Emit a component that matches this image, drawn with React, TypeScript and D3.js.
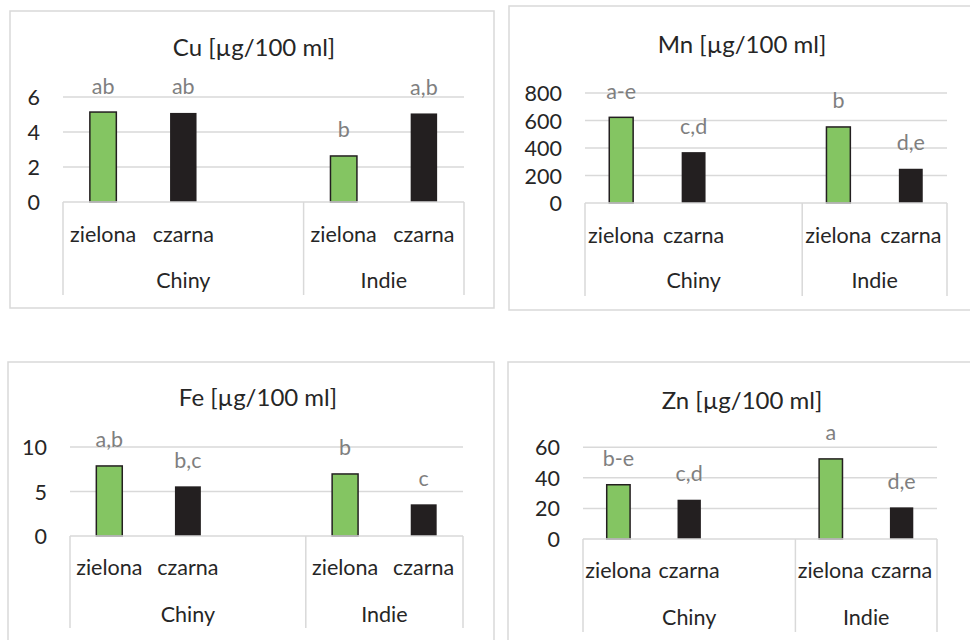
import React from "react";
import * as d3 from "d3";

// categories
const countries = ["Chiny", "Indie"];
const teas = ["zielona", "czarna"];

// values per bar: Chiny zielona, Chiny czarna, Indie zielona, Indie czarna
const cuValues = [5.14, 5.09, 2.63, 5.06];
const mnValues = [623, 370, 553, 249];
const feValues = [7.87, 5.58, 6.97, 3.56];
const znValues = [35.5, 25.7, 52.4, 20.7];

// significance letters
const cuLetters = ["ab", "ab", "b", "a,b"];
const mnLetters = ["a-e", "c,d", "b", "d,e"];
const feLetters = ["a,b", "b,c", "b", "c"];
const znLetters = ["b-e", "c,d", "a", "d,e"];

// tick values
const cuTicks = [0, 2, 4, 6];
const mnTicks = [0, 200, 400, 600, 800];
const feTicks = [0, 5, 10];
const znTicks = [0, 20, 40, 60];

const titles = ["Cu [µg/100 ml]", "Mn [µg/100 ml]", "Fe [µg/100 ml]", "Zn [µg/100 ml]"];

const panels = [
  { title: titles[0], values: cuValues, letters: cuLetters, ticks: cuTicks },
  { title: titles[1], values: mnValues, letters: mnLetters, ticks: mnTicks },
  { title: titles[2], values: feValues, letters: feLetters, ticks: feTicks },
  { title: titles[3], values: znValues, letters: znLetters, ticks: znTicks },
];

// layout of each panel on the page
const layouts = [
  { bx: 10, by: 11, bw: 484, bh: 297, left: 63, right: 464, y0: 202, yTop: 97, titleX: 254, titleY: 46, catY: 234, grpY: 280, axisBottom: 295 },
  { bx: 509, by: 6, bw: 470, bh: 304, left: 585, right: 947, y0: 203, yTop: 93, titleX: 742, titleY: 43, catY: 235, grpY: 280, axisBottom: 296 },
  { bx: 8, by: 362, bw: 486, bh: 300, left: 70, right: 463, y0: 536, yTop: 447, titleX: 258, titleY: 396, catY: 567, grpY: 614, axisBottom: 628 },
  { bx: 508, by: 362, bw: 470, bh: 300, left: 583, right: 937, y0: 539, yTop: 447.3, titleX: 742, titleY: 399, catY: 570, grpY: 617, axisBottom: 632 },
];

const FONT = "Lato, 'Open Sans', sans-serif";
const GREEN = "#84c562";
const BLACK = "#231f20";
const GRID = "#d9d9d9";

// Excel leaves an empty third category in the first group
const slots = ["Chiny|zielona", "Chiny|czarna", "Chiny|", "Indie|zielona", "Indie|czarna"];

function Panel({ p, l }: { p: (typeof panels)[0]; l: (typeof layouts)[0] }) {
  const x = d3.scaleBand().domain(slots).range([l.left, l.right]).paddingInner(0).paddingOuter(0);
  const y = d3
    .scaleLinear()
    .domain([0, p.ticks[p.ticks.length - 1]])
    .range([l.y0, l.yTop]);
  const barW = x.bandwidth() * 0.33;
  const barKeys = countries.flatMap((c) => teas.map((t) => `${c}|${t}`));
  const groupEdges = [l.left, x("Indie|zielona")!, l.right];

  return (
    <g>
      <rect x={l.bx} y={l.by} width={l.bw} height={l.bh} fill="#fff" stroke={GRID} strokeWidth={1.5} />
      <text x={l.titleX} y={l.titleY} textAnchor="middle" dominantBaseline="central" fontSize={24} fill="#262626" fontFamily={FONT}>
        {p.title}
      </text>
      {p.ticks.map((t) => (
        <g key={t}>
          {t > 0 && <line x1={l.left} x2={l.right} y1={y(t)} y2={y(t)} stroke={GRID} strokeWidth={1.5} />}
          <text x={l.left - 23} y={y(t)} textAnchor="end" dominantBaseline="central" fontSize={21.5} fill="#262626" fontFamily={FONT}>
            {t}
          </text>
        </g>
      ))}
      {barKeys.map((k, i) => {
        const cx = x(k)! + x.bandwidth() / 2;
        const top = y(p.values[i]);
        const isGreen = k.endsWith("zielona");
        return (
          <g key={k}>
            <rect
              x={cx - barW / 2}
              y={top}
              width={barW}
              height={l.y0 - top}
              fill={isGreen ? GREEN : BLACK}
              stroke={BLACK}
              strokeWidth={isGreen ? 1.5 : 0}
            />
            <text x={cx} y={top - 18.5} textAnchor="middle" fontSize={21.5} fill="#7f7f7f" fontFamily={FONT}>
              {p.letters[i]}
            </text>
            <text x={cx} y={l.catY} textAnchor="middle" dominantBaseline="central" fontSize={21.5} fill="#262626" fontFamily={FONT}>
              {k.split("|")[1]}
            </text>
          </g>
        );
      })}
      <line x1={l.left} x2={l.right} y1={l.y0} y2={l.y0} stroke={GRID} strokeWidth={1.5} />
      {groupEdges.map((gx, i) => (
        <line key={i} x1={gx} x2={gx} y1={l.y0} y2={l.axisBottom} stroke={GRID} strokeWidth={1.5} />
      ))}
      {countries.map((c, i) => (
        <text
          key={c}
          x={(groupEdges[i] + groupEdges[i + 1]) / 2}
          y={l.grpY}
          textAnchor="middle"
          dominantBaseline="central"
          fontSize={21.5}
          fill="#262626"
          fontFamily={FONT}
        >
          {c}
        </text>
      ))}
    </g>
  );
}

export default function App() {
  return (
    <svg width={970} height={640} style={{ position: "absolute", left: 0, top: 0, background: "#fff" }}>
      <rect width={970} height={640} fill="#fff" />
      {panels.map((p, i) => (
        <Panel key={i} p={p} l={layouts[i]} />
      ))}
    </svg>
  );
}
